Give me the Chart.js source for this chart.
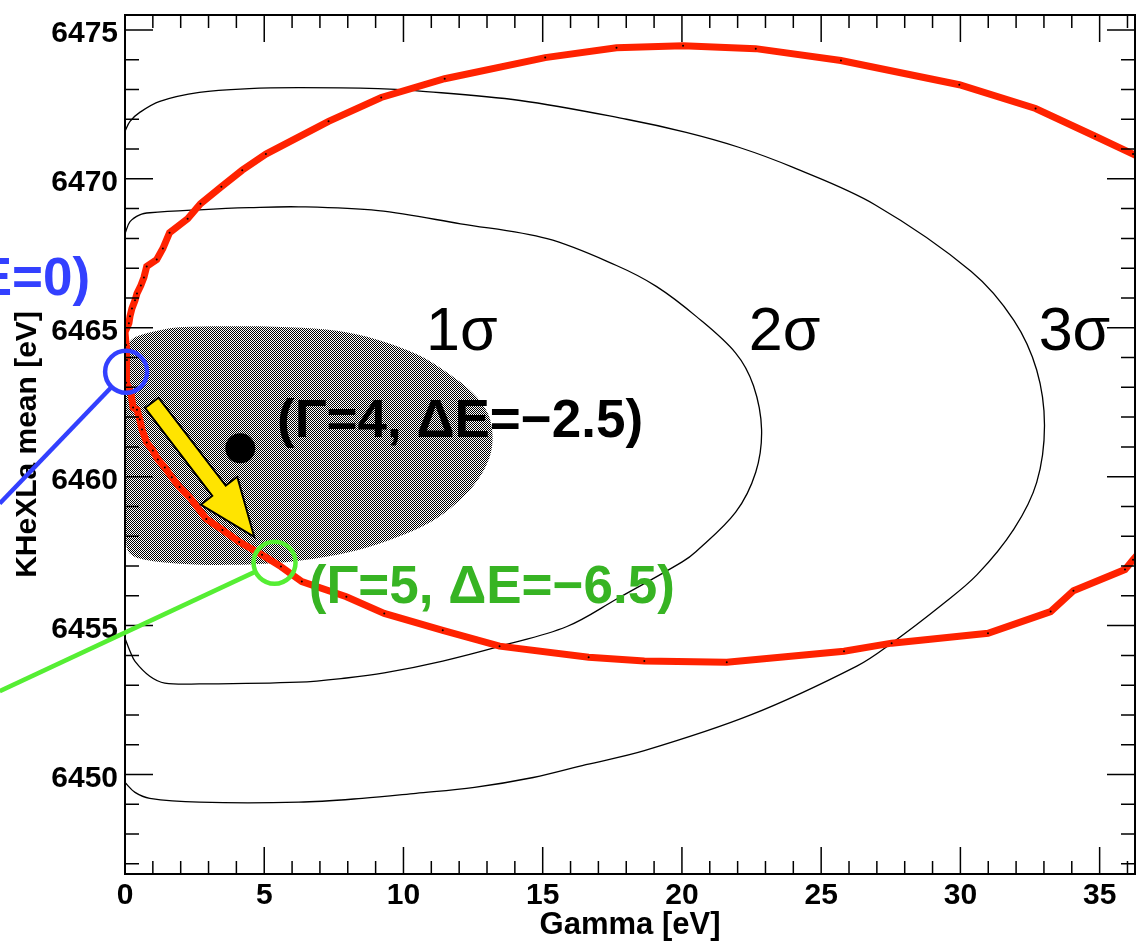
<!DOCTYPE html>
<html>
<head>
<meta charset="utf-8">
<script src="https://cdn.jsdelivr.net/npm/chart.js@4.4.1/dist/chart.umd.min.js"></script>
<style>
  html, body { margin: 0; padding: 0; background: #fff; overflow: hidden; }
  #chart { display: block; width: 1150px; height: 942px; }
</style>
</head>
<body>
<canvas id="chart" width="1150" height="942"></canvas>
<script>
// contours: Gamma [eV] vs KHeXLa mean [eV]
const sigma1X = [0.04,0.18,0.46,1.25,1.96,3.74,5.88,7.67,9.09,10.52,11.59,12.48,13.02,13.20,13.09,12.66,11.95,10.98,9.81,8.38,6.24,3.85,1.96,0.71,0.18,0.04];
const sigma1Y = [6464.32,6464.55,6464.72,6464.92,6465.02,6465.05,6465.02,6464.89,6464.59,6464.09,6463.48,6462.82,6462.15,6461.38,6460.65,6459.88,6459.15,6458.48,6457.98,6457.54,6457.18,6457.04,6457.08,6457.21,6457.41,6457.81];

const sigma2X = [0.00,0.18,0.53,0.89,2.67,4.46,6.24,9.09,12.05,15.16,17.65,19.08,20.50,21.93,22.57,22.86,22.65,21.93,20.50,20.01,17.69,15.87,13.48,11.41,9.31,7.95,6.24,2.67,1.43,0.89,0.36,0.18,0.00];
const sigma2Y = [6468.16,6468.56,6468.79,6468.86,6468.96,6469.03,6469.06,6468.93,6468.49,6467.99,6467.09,6466.39,6465.39,6464.15,6463.05,6461.58,6460.15,6458.81,6457.48,6457.14,6455.91,6454.97,6454.31,6453.81,6453.41,6453.24,6453.10,6453.04,6453.07,6453.30,6453.80,6454.14,6454.57];

const sigma3X = [0.00,0.18,0.53,1.25,2.67,4.46,6.24,9.09,10.41,14.19,18.01,20.15,22.04,23.97,26.93,30.39,31.92,32.74,33.02,32.74,31.92,30.60,29.35,27.53,26.28,22.47,18.65,16.55,14.66,12.55,10.45,8.52,6.24,2.67,0.89,0.36,0.00];
const sigma3Y = [6471.60,6471.93,6472.23,6472.60,6472.90,6473.03,6473.06,6473.03,6472.96,6472.63,6472.00,6471.56,6471.06,6470.39,6469.13,6466.89,6465.25,6463.58,6461.72,6459.81,6458.24,6456.71,6455.71,6454.41,6453.64,6452.00,6450.80,6450.33,6449.90,6449.57,6449.37,6449.20,6449.07,6449.07,6449.20,6449.40,6449.73];

// red contour
const redX = [37.27,36.20,34.84,32.70,29.96,25.71,22.65,20.04,17.65,15.09,11.48,9.20,7.31,5.06,4.21,3.46,2.71,2.25,1.60,1.36,1.14,0.78,0.68,0.57,0.43,0.36,0.25,0.18,0.14,0.00,0.04,0.07,0.04,0.21,0.29,0.43,0.53,0.61,0.78,1.00,1.18,1.43,1.68,1.96,2.32,2.92,3.50,4.10,4.92,5.60,6.35,7.95,9.31,11.41,13.45,16.65,18.65,21.61,25.82,27.53,30.99,33.24,34.06,35.91,36.20,37.09];
const redY = [6470.36,6470.83,6471.43,6472.36,6473.16,6473.97,6474.37,6474.47,6474.40,6474.07,6473.36,6472.73,6471.93,6470.83,6470.29,6469.73,6469.16,6468.66,6468.19,6467.66,6467.29,6467.06,6466.69,6466.42,6466.15,6465.92,6465.65,6465.39,6465.15,6464.85,6464.42,6463.92,6463.15,6462.82,6462.32,6462.25,6461.92,6461.58,6461.15,6460.88,6460.58,6460.31,6459.98,6459.65,6459.31,6458.58,6458.21,6457.81,6457.38,6456.98,6456.48,6455.97,6455.41,6454.84,6454.31,6453.94,6453.81,6453.77,6454.14,6454.41,6454.74,6455.47,6456.17,6456.88,6457.21,6458.14];

// best fit point
const bestX = [4.14];
const bestY = [6460.95];

const xTicks = [0, 5, 10, 15, 20, 25, 30, 35];
const yTicks = [6450, 6455, 6460, 6465, 6470, 6475];

const zip = (xs, ys) => xs.map((x, i) => ({ x: x, y: ys[i] }));

const canvas = document.getElementById('chart');

// ROOT style fill: 1px black / white checker
function checker() {
  const c = document.createElement('canvas');
  c.width = 2; c.height = 2;
  const g = c.getContext('2d');
  g.fillStyle = '#fff'; g.fillRect(0, 0, 2, 2);
  g.fillStyle = '#000'; g.fillRect(0, 0, 1, 1); g.fillRect(1, 1, 1, 1);
  return canvas.getContext('2d').createPattern(c, 'repeat');
}

const FONT = '"Liberation Sans", Arial, Helvetica, sans-serif';

// no extra room for edge labels, keep the frame where it is
const noPad = s => { s.paddingTop = 0; s.paddingBottom = 0; s.paddingLeft = 0; s.paddingRight = 0; };

// frame with inward ticks on all four sides
const framePlugin = {
  id: 'frame',
  afterDatasetsDraw(chart) {
    const { ctx, chartArea: a, scales: { x, y } } = chart;
    ctx.save();
    ctx.strokeStyle = '#000';
    ctx.lineWidth = 1.5;
    ctx.beginPath();
    for (let v = Math.ceil(x.min); v <= x.max; v++) {
      const px = x.getPixelForValue(v);
      const len = xTicks.includes(v) ? 27 : 13;
      ctx.moveTo(px, a.bottom); ctx.lineTo(px, a.bottom - len);
      ctx.moveTo(px, a.top); ctx.lineTo(px, a.top + len);
    }
    for (let v = Math.ceil(y.min); v <= y.max; v++) {
      const py = y.getPixelForValue(v);
      const len = yTicks.includes(v) ? 28 : 14;
      ctx.moveTo(a.left, py); ctx.lineTo(a.left + len, py);
      ctx.moveTo(a.right, py); ctx.lineTo(a.right - len, py);
    }
    ctx.stroke();
    ctx.lineWidth = 2;
    ctx.strokeRect(a.left, a.top, a.right - a.left, a.bottom - a.top);
    ctx.restore();
  }
};

// labels, circles, arrow
const notesPlugin = {
  id: 'notes',
  afterDraw(chart) {
    const { ctx, scales: { x, y } } = chart;
    const P = (gx, gy) => [x.getPixelForValue(gx), y.getPixelForValue(gy)];
    ctx.save();

    // sigma labels
    ctx.fillStyle = '#000';
    ctx.font = '61px ' + FONT;
    ctx.textAlign = 'left';
    ctx.textBaseline = 'alphabetic';
    [['1σ', 10.81], ['2σ', 22.40], ['3σ', 32.81]].forEach(([t, gx]) => {
      const [px, py] = P(gx, 6464.25);
      ctx.fillText(t, px, py);
    });

    // yellow arrow
    const [tx, ty] = P(0.96, 6462.48);
    const [hx, hy] = P(4.64, 6457.98);
    const len = Math.hypot(hx - tx, hy - ty);
    const ux = (hx - tx) / len, uy = (hy - ty) / len;
    const nx = -uy, ny = ux;
    const sw = 8.5, hw = 23, hl = 58;
    const bx = hx - ux * hl, by = hy - uy * hl;
    ctx.beginPath();
    ctx.moveTo(tx + nx * sw, ty + ny * sw);
    ctx.lineTo(bx + nx * sw, by + ny * sw);
    ctx.lineTo(bx + nx * hw, by + ny * hw);
    ctx.lineTo(hx, hy);
    ctx.lineTo(bx - nx * hw, by - ny * hw);
    ctx.lineTo(bx - nx * sw, by - ny * sw);
    ctx.lineTo(tx - nx * sw, ty - ny * sw);
    ctx.closePath();
    ctx.fillStyle = '#ffe400';
    ctx.fill();
    ctx.strokeStyle = '#000';
    ctx.lineWidth = 2;
    ctx.lineJoin = 'miter';
    ctx.stroke();

    // annotations
    ctx.font = 'bold 53px ' + FONT;
    ctx.textBaseline = 'alphabetic';
    let [px, py] = P(5.46, 6461.32);
    ctx.fillStyle = '#000';
    ctx.fillText('(Γ=4, ΔE=−2.5)', px, py);
    [px, py] = P(6.60, 6455.77);
    ctx.fillStyle = '#37b423';
    ctx.fillText('(Γ=5, ΔE=−6.5)', px, py);
    [px, py] = P(-1.25, 6466.09);
    ctx.fillStyle = '#3340ff';
    ctx.textAlign = 'right';
    ctx.fillText('(Γ=0, ΔE=0)', px, py);

    // circles with pointer lines
    const ring = (cx, cy, ex, ey, color) => {
      const [c1, c2] = P(cx, cy);
      const [e1, e2] = P(ex, ey);
      const r = 21;
      const d = Math.hypot(e1 - c1, e2 - c2);
      ctx.strokeStyle = color;
      ctx.lineWidth = 4.5;
      ctx.beginPath();
      ctx.arc(c1, c2, r, 0, Math.PI * 2);
      ctx.stroke();
      ctx.beginPath();
      ctx.moveTo(c1 + (e1 - c1) / d * r, c2 + (e2 - c2) / d * r);
      ctx.lineTo(e1, e2);
      ctx.stroke();
    };
    ring(0.04, 6463.52, -4.5, 6459.1, '#3340ff');
    ring(5.37, 6457.11, -4.5, 6452.8, '#55ee33');

    ctx.restore();
  }
};

new Chart(canvas, {
  type: 'scatter',
  data: {
    datasets: [
      {
        label: 'best fit',
        data: zip(bestX, bestY),
        pointRadius: 15,
        pointBackgroundColor: '#000',
        pointBorderWidth: 0,
        order: 0
      },
      {
        label: 'red contour',
        data: zip(redX, redY),
        showLine: true,
        borderColor: '#ff2200',
        borderWidth: 7,
        tension: 0,
        pointRadius: 1,
        pointBackgroundColor: '#000',
        pointBorderWidth: 0,
        order: 1
      },
      {
        label: '3 sigma',
        data: zip(sigma3X, sigma3Y),
        showLine: true,
        borderColor: '#000',
        borderWidth: 1.3,
        tension: 0.35,
        pointRadius: 0,
        order: 2
      },
      {
        label: '2 sigma',
        data: zip(sigma2X, sigma2Y),
        showLine: true,
        borderColor: '#000',
        borderWidth: 1.3,
        tension: 0.35,
        pointRadius: 0,
        order: 3
      },
      {
        label: '1 sigma',
        data: zip(sigma1X.concat(sigma1X[0]), sigma1Y.concat(sigma1Y[0])),
        showLine: true,
        fill: 'shape',
        backgroundColor: checker(),
        borderColor: 'rgba(0,0,0,0)',
        borderWidth: 0,
        tension: 0.35,
        pointRadius: 0,
        order: 4
      }
    ]
  },
  options: {
    responsive: false,
    animation: false,
    devicePixelRatio: 1,
    layout: { padding: { top: 9, right: 5, left: 0, bottom: 0 } },
    plugins: { legend: { display: false }, tooltip: { enabled: false } },
    events: [],
    scales: {
      x: {
        type: 'linear',
        min: 0,
        max: 36.27,
        grid: { display: false, drawTicks: false },
        border: { display: false },
        afterBuildTicks: s => { s.ticks = xTicks.map(v => ({ value: v })); },
        afterFit: s => { s.height = 68; noPad(s); },
        ticks: {
          color: '#000',
          padding: 4,
          maxRotation: 0,
          font: { family: FONT, size: 30, weight: 'bold' },
          callback: v => String(v)
        },
        title: {
          display: true,
          text: 'Gamma [eV]',
          color: '#000',
          padding: { top: 0, bottom: 1 },
          font: { family: FONT, size: 31, weight: 'bold', lineHeight: 1 }
        }
      },
      y: {
        type: 'linear',
        min: 6446.66,
        max: 6475.5,
        grid: { display: false, drawTicks: false },
        border: { display: false },
        afterBuildTicks: s => { s.ticks = yTicks.map(v => ({ value: v })); },
        afterFit: s => { s.width = 125; noPad(s); },
        ticks: {
          color: '#000',
          padding: 7,
          labelOffset: 4,
          font: { family: FONT, size: 30, weight: 'bold' },
          callback: v => String(v)
        },
        title: {
          display: true,
          text: 'KHeXLa mean [eV]',
          color: '#000',
          padding: { top: 13, bottom: 0 },
          font: { family: FONT, size: 30, weight: 'bold', lineHeight: 1 }
        }
      }
    }
  },
  plugins: [framePlugin, notesPlugin]
});
</script>
</body>
</html>
